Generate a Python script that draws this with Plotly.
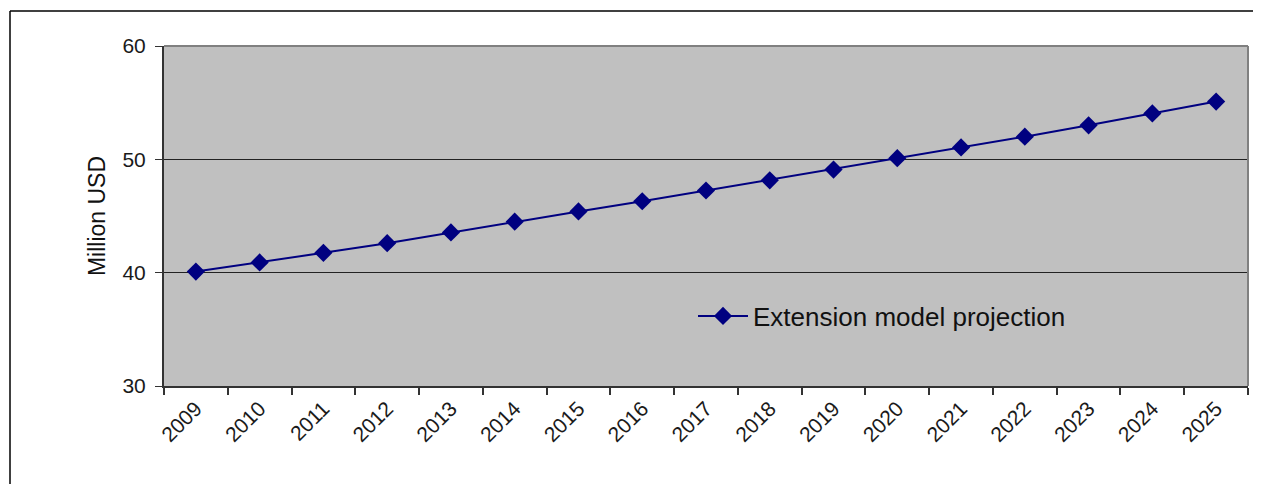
import plotly.graph_objects as go

years = [str(y) for y in range(2009, 2026)]
values = [40.1, 40.9, 41.75, 42.6, 43.55, 44.5, 45.4, 46.3, 47.25, 48.15,
          49.1, 50.1, 51.05, 52.0, 53.0, 54.05, 55.1]
series_name = "Extension model projection"

OFF = 8  # page body margin offset
W, H = 1261, 484
L, R, T, B = 164, 1248, 46, 386
pw, ph = R - L, B - T

def px_x(x):
    return (x - L) / pw

def px_y(y):
    return (B - y) / ph

fig = go.Figure()
fig.add_trace(go.Scatter(
    x=years, y=values, mode="lines+markers", name=series_name,
    line=dict(color="#000080", width=2),
    marker=dict(symbol="diamond", size=14, color="#000080"),
))

font_family = "Liberation Sans, Arial, sans-serif"
fig.update_layout(
    width=W - OFF, height=H - OFF,
    margin=dict(l=L - OFF, r=W - R, t=T - OFF, b=H - B),
    paper_bgcolor="white",
    plot_bgcolor="#C0C0C0",
    font=dict(family=font_family, size=21, color="#1a1a1a"),
    showlegend=True,
    legend=dict(x=px_x(693), y=px_y(316), xanchor="left", yanchor="middle",
                bgcolor="rgba(0,0,0,0)", font=dict(size=26, color="#111111"),
                itemwidth=50),
    xaxis=dict(
        type="category", tickson="boundaries", ticks="outside", ticklen=7,
        tickcolor="#333333", tickwidth=1.5, showgrid=False,
        showline=True, linecolor="#333333", linewidth=2,
        tickangle=-45, tickfont=dict(size=21), range=[-0.5, 16.5],
    ),
    yaxis=dict(
        range=[30, 60], tickvals=[30, 40, 50, 60], ticks="outside", ticklen=7,
        tickcolor="#333333", showgrid=True, gridcolor="#222222", gridwidth=1.2,
        showline=True, linecolor="#333333", linewidth=2, zeroline=False,
        tickfont=dict(size=21), ticklabelstandoff=5,
        title=dict(text="Million USD", font=dict(size=23, color="#111111"), standoff=10),
    ),
    shapes=[
        dict(type="line", xref="paper", yref="paper", x0=0, x1=1, y0=1, y1=1,
             line=dict(color="#808080", width=2)),
        dict(type="line", xref="paper", yref="paper", x0=1, x1=1, y0=0, y1=1,
             line=dict(color="#808080", width=2)),
        dict(type="line", xref="paper", yref="paper", x0=px_x(10), x1=px_x(1270),
             y0=px_y(11), y1=px_y(11), line=dict(color="#000000", width=1.5)),
        dict(type="line", xref="paper", yref="paper", x0=px_x(10), x1=px_x(10),
             y0=px_y(11), y1=px_y(495), line=dict(color="#000000", width=1.5)),
    ],
)

fig.write_html("out.html")
